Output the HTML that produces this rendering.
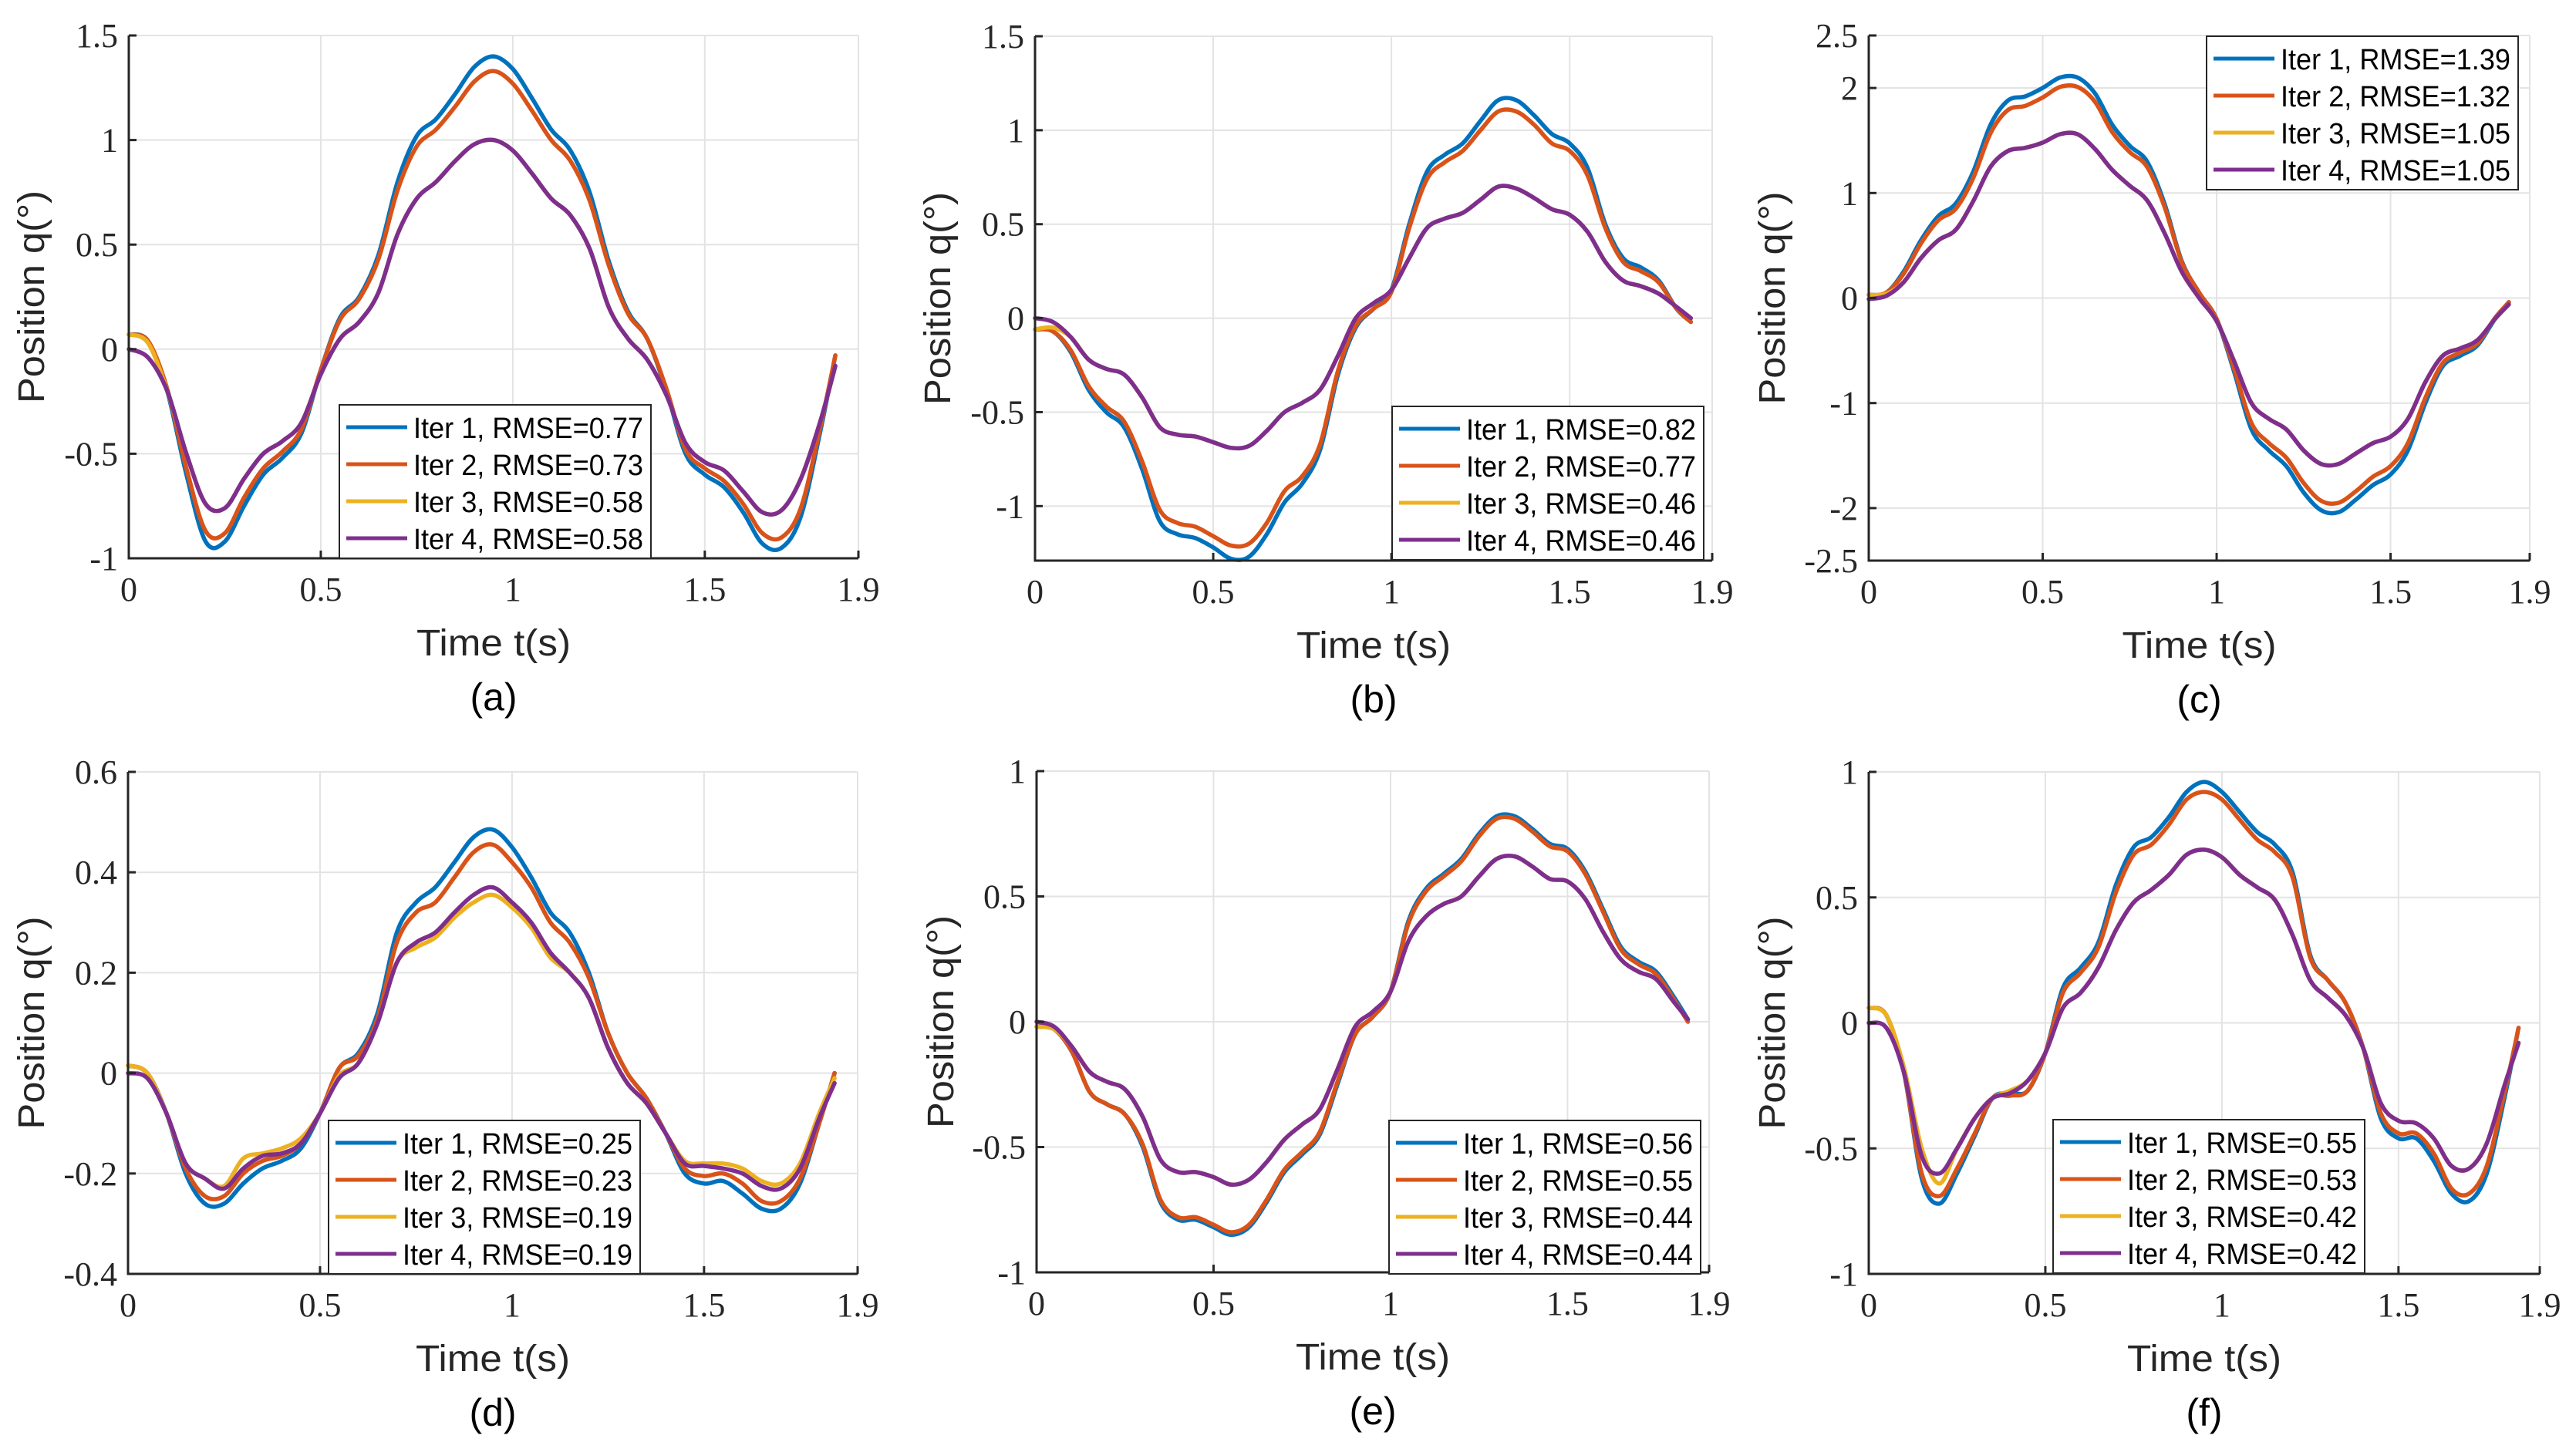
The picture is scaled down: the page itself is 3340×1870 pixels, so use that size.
<!DOCTYPE html>
<html><head><meta charset="utf-8">
<style>
html,body{margin:0;padding:0;background:#fff;}
svg{display:block;}
.tick{font-family:"Liberation Serif",serif;font-size:44px;fill:#262626;}
.lab{font-family:"Liberation Sans",sans-serif;font-size:48px;fill:#262626;}
.leg{font-family:"Liberation Sans",sans-serif;font-size:38px;fill:#000;}
.cap{font-family:"Liberation Sans",sans-serif;font-size:50px;fill:#000;}
</style></head>
<body>
<svg id="fig" width="3340" height="1870" viewBox="0 0 3340 1870" xmlns="http://www.w3.org/2000/svg">
<rect width="3340" height="1870" fill="#fff"/>
</svg>
<script>
const times=[0,0.05,0.1,0.15,0.2,0.25,0.3,0.35,0.4,0.45,0.5,0.55,0.6,0.65,0.7,0.75,0.8,0.85,0.9,0.95,1.0,1.05,1.1,1.15,1.2,1.25,1.3,1.35,1.4,1.45,1.5,1.55,1.6,1.65,1.7,1.75,1.8,1.84];
const xTicks=[0,0.5,1,1.5,1.9];
const xTickLabels=["0","0.5","1","1.5","1.9"];
const seriesNames=["Iter 1","Iter 2","Iter 3","Iter 4"];
const colors=["#0072BD","#D95319","#EDB120","#7E2F8E"];

const aIter1=[0.07,0.04,-0.2,-0.6,-0.92,-0.92,-0.75,-0.6,-0.52,-0.4,-0.1,0.15,0.25,0.45,0.8,1.02,1.1,1.22,1.35,1.4,1.34,1.2,1.05,0.95,0.75,0.42,0.18,0.05,-0.2,-0.5,-0.6,-0.66,-0.78,-0.93,-0.95,-0.8,-0.4,-0.03];
const aIter2=[0.07,0.04,-0.19,-0.57,-0.87,-0.88,-0.71,-0.57,-0.49,-0.38,-0.1,0.14,0.24,0.43,0.76,0.97,1.05,1.16,1.28,1.33,1.27,1.14,1.0,0.9,0.71,0.4,0.17,0.05,-0.19,-0.48,-0.57,-0.63,-0.74,-0.88,-0.9,-0.76,-0.38,-0.03];
const aIter3=[0.07,0.03,-0.2,-0.5,-0.74,-0.76,-0.62,-0.5,-0.44,-0.35,-0.12,0.05,0.13,0.27,0.55,0.72,0.8,0.9,0.98,1.0,0.95,0.84,0.72,0.64,0.48,0.2,0.05,-0.05,-0.22,-0.45,-0.54,-0.58,-0.68,-0.78,-0.77,-0.62,-0.35,-0.08];
const aIter4=[0,-0.04,-0.2,-0.5,-0.74,-0.76,-0.62,-0.5,-0.44,-0.35,-0.12,0.05,0.13,0.27,0.55,0.72,0.8,0.9,0.98,1.0,0.95,0.84,0.72,0.64,0.48,0.2,0.05,-0.05,-0.22,-0.45,-0.54,-0.58,-0.68,-0.78,-0.77,-0.62,-0.35,-0.08];

const bIter1=[-0.06,-0.07,-0.18,-0.38,-0.5,-0.58,-0.8,-1.08,-1.15,-1.17,-1.22,-1.28,-1.27,-1.15,-0.98,-0.88,-0.7,-0.3,-0.05,0.05,0.15,0.5,0.78,0.87,0.93,1.05,1.16,1.16,1.08,0.98,0.93,0.8,0.5,0.32,0.27,0.2,0.05,-0.02];
const bIter2=[-0.06,-0.07,-0.17,-0.36,-0.47,-0.55,-0.76,-1.02,-1.09,-1.11,-1.16,-1.21,-1.2,-1.09,-0.92,-0.84,-0.67,-0.28,-0.04,0.05,0.14,0.48,0.74,0.83,0.89,1.0,1.1,1.1,1.03,0.93,0.89,0.76,0.48,0.3,0.25,0.19,0.05,-0.02];
const bIter3=[-0.06,-0.05,-0.1,-0.22,-0.27,-0.3,-0.42,-0.58,-0.62,-0.63,-0.66,-0.69,-0.68,-0.6,-0.5,-0.45,-0.38,-0.2,0.0,0.08,0.15,0.32,0.48,0.53,0.56,0.63,0.7,0.69,0.64,0.58,0.55,0.46,0.3,0.2,0.17,0.13,0.06,0.0];
const bIter4=[0,-0.02,-0.1,-0.22,-0.27,-0.3,-0.42,-0.58,-0.62,-0.63,-0.66,-0.69,-0.68,-0.6,-0.5,-0.45,-0.38,-0.2,0.0,0.08,0.15,0.32,0.48,0.53,0.56,0.63,0.7,0.69,0.64,0.58,0.55,0.46,0.3,0.2,0.17,0.13,0.06,0.0];

const cIter1=[0.03,0.05,0.25,0.55,0.78,0.9,1.2,1.65,1.88,1.92,2.0,2.1,2.1,1.95,1.65,1.45,1.3,0.9,0.35,0.05,-0.2,-0.7,-1.25,-1.45,-1.6,-1.85,-2.02,-2.04,-1.92,-1.78,-1.68,-1.45,-1.0,-0.65,-0.55,-0.45,-0.2,-0.04];
const cIter2=[0.03,0.05,0.23,0.52,0.74,0.85,1.14,1.57,1.79,1.83,1.91,2.01,2.01,1.87,1.58,1.39,1.25,0.87,0.34,0.05,-0.2,-0.67,-1.19,-1.38,-1.52,-1.76,-1.93,-1.95,-1.84,-1.7,-1.6,-1.38,-0.95,-0.62,-0.52,-0.43,-0.19,-0.04];
const cIter3=[0.03,0.04,0.15,0.38,0.55,0.65,0.92,1.25,1.4,1.43,1.48,1.56,1.56,1.42,1.22,1.07,0.93,0.62,0.25,0.0,-0.22,-0.6,-1.0,-1.15,-1.25,-1.45,-1.58,-1.58,-1.48,-1.38,-1.32,-1.15,-0.8,-0.55,-0.48,-0.4,-0.2,-0.06];
const cIter4=[-0.01,0.02,0.15,0.38,0.55,0.65,0.92,1.25,1.4,1.43,1.48,1.56,1.56,1.42,1.22,1.07,0.93,0.62,0.25,0.0,-0.22,-0.6,-1.0,-1.15,-1.25,-1.45,-1.58,-1.58,-1.48,-1.38,-1.32,-1.15,-0.8,-0.55,-0.48,-0.4,-0.2,-0.06];

const dIter1=[0.015,0.0,-0.08,-0.2,-0.26,-0.26,-0.22,-0.19,-0.175,-0.15,-0.08,0.01,0.04,0.12,0.28,0.34,0.37,0.42,0.47,0.485,0.45,0.39,0.32,0.28,0.2,0.08,0.0,-0.05,-0.12,-0.2,-0.22,-0.215,-0.24,-0.27,-0.27,-0.22,-0.1,0.0];
const dIter2=[0.015,0.0,-0.08,-0.19,-0.245,-0.245,-0.2,-0.175,-0.165,-0.14,-0.08,0.01,0.035,0.11,0.26,0.32,0.34,0.39,0.44,0.455,0.42,0.37,0.3,0.26,0.19,0.08,0.0,-0.05,-0.12,-0.19,-0.205,-0.2,-0.22,-0.255,-0.255,-0.21,-0.1,0.0];
const dIter3=[0.015,0.0,-0.08,-0.18,-0.21,-0.225,-0.17,-0.16,-0.15,-0.13,-0.08,-0.005,0.02,0.1,0.22,0.25,0.27,0.31,0.34,0.355,0.33,0.29,0.23,0.2,0.15,0.05,-0.02,-0.06,-0.12,-0.175,-0.18,-0.18,-0.19,-0.215,-0.22,-0.18,-0.08,-0.01];
const dIter4=[0,-0.01,-0.08,-0.18,-0.21,-0.23,-0.19,-0.165,-0.16,-0.14,-0.08,-0.01,0.02,0.1,0.22,0.26,0.28,0.32,0.355,0.37,0.34,0.3,0.24,0.2,0.15,0.05,-0.02,-0.06,-0.12,-0.18,-0.185,-0.19,-0.2,-0.225,-0.23,-0.19,-0.09,-0.02];

const eIter1=[-0.02,-0.03,-0.12,-0.28,-0.33,-0.37,-0.5,-0.72,-0.79,-0.79,-0.82,-0.85,-0.82,-0.72,-0.6,-0.53,-0.45,-0.25,-0.05,0.02,0.12,0.4,0.53,0.59,0.65,0.75,0.82,0.82,0.77,0.71,0.69,0.6,0.45,0.3,0.24,0.2,0.1,0.01];
const eIter2=[-0.02,-0.03,-0.12,-0.28,-0.33,-0.37,-0.49,-0.71,-0.78,-0.78,-0.81,-0.84,-0.81,-0.71,-0.59,-0.52,-0.44,-0.24,-0.05,0.02,0.12,0.39,0.52,0.58,0.64,0.74,0.81,0.81,0.76,0.7,0.68,0.59,0.44,0.29,0.23,0.19,0.09,0.0];
const eIter3=[-0.02,-0.03,-0.1,-0.2,-0.24,-0.27,-0.38,-0.55,-0.6,-0.6,-0.62,-0.65,-0.63,-0.56,-0.47,-0.41,-0.35,-0.19,-0.02,0.04,0.12,0.32,0.42,0.47,0.5,0.58,0.65,0.66,0.62,0.57,0.56,0.49,0.36,0.25,0.2,0.17,0.08,0.01];
const eIter4=[0,-0.02,-0.1,-0.2,-0.24,-0.27,-0.38,-0.55,-0.6,-0.6,-0.62,-0.65,-0.63,-0.56,-0.47,-0.41,-0.35,-0.19,-0.02,0.04,0.12,0.32,0.42,0.47,0.5,0.58,0.65,0.66,0.62,0.57,0.56,0.49,0.36,0.25,0.2,0.17,0.08,0.01];

const fIter1=[0.06,0.03,-0.2,-0.62,-0.72,-0.6,-0.45,-0.3,-0.28,-0.27,-0.12,0.14,0.22,0.32,0.55,0.7,0.74,0.82,0.92,0.96,0.92,0.84,0.76,0.71,0.6,0.27,0.17,0.08,-0.1,-0.38,-0.46,-0.46,-0.55,-0.68,-0.71,-0.6,-0.3,-0.02];
const fIter2=[0.06,0.03,-0.2,-0.6,-0.69,-0.58,-0.44,-0.3,-0.29,-0.27,-0.12,0.12,0.2,0.3,0.52,0.67,0.71,0.79,0.89,0.92,0.89,0.81,0.73,0.68,0.58,0.26,0.17,0.08,-0.1,-0.36,-0.44,-0.44,-0.52,-0.66,-0.68,-0.57,-0.28,-0.02];
const fIter3=[0.06,0.03,-0.18,-0.5,-0.64,-0.5,-0.38,-0.3,-0.27,-0.23,-0.12,0.06,0.12,0.22,0.37,0.48,0.53,0.59,0.67,0.69,0.66,0.59,0.54,0.49,0.35,0.17,0.1,0.03,-0.1,-0.32,-0.39,-0.4,-0.46,-0.57,-0.58,-0.48,-0.25,-0.08];
const fIter4=[0,-0.02,-0.2,-0.53,-0.6,-0.5,-0.38,-0.3,-0.28,-0.23,-0.12,0.06,0.12,0.22,0.37,0.48,0.53,0.59,0.67,0.69,0.66,0.59,0.54,0.49,0.35,0.17,0.1,0.03,-0.1,-0.32,-0.39,-0.4,-0.46,-0.57,-0.58,-0.48,-0.25,-0.08];

const aRmse=["0.77","0.73","0.58","0.58"];
const bRmse=["0.82","0.77","0.46","0.46"];
const cRmse=["1.39","1.32","1.05","1.05"];
const dRmse=["0.25","0.23","0.19","0.19"];
const eRmse=["0.56","0.55","0.44","0.44"];
const fRmse=["0.55","0.53","0.42","0.42"];

const aYTicks=[-1,-0.5,0,0.5,1,1.5];
const bYTicks=[-1,-0.5,0,0.5,1,1.5];
const cYTicks=[-2.5,-2,-1,0,1,2,2.5];
const dYTicks=[-0.4,-0.2,0,0.2,0.4,0.6];
const eYTicks=[-1,-0.5,0,0.5,1];
const fYTicks=[-1,-0.5,0,0.5,1];

const NS="http://www.w3.org/2000/svg";
const svg=document.getElementById('fig');
function mk(tag,attrs,parent){const e=document.createElementNS(NS,tag);for(const k in attrs)e.setAttribute(k,attrs[k]);(parent||svg).appendChild(e);return e;}
function smoothPath(pts){
  let d="M"+pts[0][0].toFixed(1)+","+pts[0][1].toFixed(1);
  for(let i=0;i<pts.length-1;i++){
    const p0=pts[Math.max(0,i-1)],p1=pts[i],p2=pts[i+1],p3=pts[Math.min(pts.length-1,i+2)];
    const c1x=p1[0]+(p2[0]-p0[0])/6,c1y=p1[1]+(p2[1]-p0[1])/6;
    const c2x=p2[0]-(p3[0]-p1[0])/6,c2y=p2[1]-(p3[1]-p1[1])/6;
    d+=" C"+c1x.toFixed(1)+","+c1y.toFixed(1)+" "+c2x.toFixed(1)+","+c2y.toFixed(1)+" "+p2[0].toFixed(1)+","+p2[1].toFixed(1);
  }
  return d;
}
function fmt(v){return (v<0?"-":"")+String(Math.abs(v));}

const panels=[
 {id:"a",L:167,R:1113,T:46,B:724,ymin:-1,ymax:1.5,yt:aYTicks,s:[aIter1,aIter2,aIter3,aIter4],r:aRmse,lx:440,ly:525,ylx:40},
 {id:"b",L:1342,R:2220,T:47,B:727,ymin:-1.29,ymax:1.5,yt:bYTicks,s:[bIter1,bIter2,bIter3,bIter4],r:bRmse,lx:1805,ly:527,ylx:1215},
 {id:"c",L:2423,R:3280,T:46,B:727,ymin:-2.5,ymax:2.5,yt:cYTicks,s:[cIter1,cIter2,cIter3,cIter4],r:cRmse,lx:2861,ly:47,ylx:2297},
 {id:"d",L:166,R:1112,T:1001,B:1652,ymin:-0.4,ymax:0.6,yt:dYTicks,s:[dIter1,dIter2,dIter3,dIter4],r:dRmse,lx:426,ly:1453,ylx:40},
 {id:"e",L:1344,R:2216,T:1000,B:1650,ymin:-1,ymax:1,yt:eYTicks,s:[eIter1,eIter2,eIter3,eIter4],r:eRmse,lx:1801,ly:1453,ylx:1219},
 {id:"f",L:2423,R:3293,T:1001,B:1652,ymin:-1,ymax:1,yt:fYTicks,s:[fIter1,fIter2,fIter3,fIter4],r:fRmse,lx:2662,ly:1452,ylx:2297}
];

panels.forEach(p=>{
  const g=mk('g',{});
  
  
  const X=t=>p.L+(t-0)/(1.9-0)*(p.R-p.L);
  const Y=v=>p.B-(v-p.ymin)/(p.ymax-p.ymin)*(p.B-p.T);
  xTicks.forEach(t=>{const l=mk('line',{x1:X(t),x2:X(t),y1:p.T,y2:p.B,stroke:"#e3e3e3","stroke-width":2},g);
    });
  p.yt.forEach(v=>{const l=mk('line',{x1:p.L,x2:p.R,y1:Y(v),y2:Y(v),stroke:"#e3e3e3","stroke-width":2},g);
    });
  mk('line',{x1:p.L,x2:p.R,y1:p.T,y2:p.T,stroke:"#e3e3e3","stroke-width":2},g);
  p.s.forEach((arr,k)=>{
    const pts=arr.map((v,i)=>[X(times[i]),Y(v)]);
    const path=mk('path',{d:smoothPath(pts),fill:"none",stroke:colors[k],"stroke-width":5.5,"stroke-linejoin":"round","stroke-linecap":"round"},g);
    
    
  });
  const ax=mk('path',{d:`M${p.L},${p.T} L${p.L},${p.B} L${p.R},${p.B}`,fill:"none",stroke:"#262626","stroke-width":3},g);
  
  
  xTicks.forEach((t,i)=>{
    mk('line',{x1:X(t),x2:X(t),y1:p.B,y2:p.B-10,stroke:"#262626","stroke-width":3},g);
    const tx=mk('text',{x:X(t),y:p.B+55,"text-anchor":"middle",class:"tick"},g);
    tx.textContent=xTickLabels[i];
    
    
  });
  p.yt.forEach(v=>{
    mk('line',{x1:p.L,x2:p.L+10,y1:Y(v),y2:Y(v),stroke:"#262626","stroke-width":3},g);
    const tx=mk('text',{x:p.L-14,y:Y(v)+15,"text-anchor":"end",class:"tick"},g);
    tx.textContent=fmt(v);
    
    
  });
  const cx=(p.L+p.R)/2, cy=(p.T+p.B)/2;
  const xl=mk('text',{x:cx,y:p.B+126,"text-anchor":"middle",class:"lab",textLength:200,lengthAdjust:"spacingAndGlyphs"},g);
  xl.textContent="Time t(s)";
  
  
  const yl=mk('text',{x:0,y:0,"text-anchor":"middle",class:"lab",transform:`translate(${p.ylx+17},${cy}) rotate(-90)`,textLength:276,lengthAdjust:"spacingAndGlyphs"},g);
  yl.textContent="Position q(°)";
  
  
  const cap=mk('text',{x:cx,y:p.B+197,"text-anchor":"middle",class:"cap"},g);
  cap.textContent="("+p.id+")";
  
  
  const lg=mk('g',{},g);
  
  
  mk('rect',{x:p.lx,y:p.ly,width:404,height:199,fill:"#fff",stroke:"#262626","stroke-width":2},lg);
  seriesNames.forEach((n,k)=>{
    const yy=p.ly+29+k*48;
    const ln=mk('line',{x1:p.lx+9,x2:p.lx+88,y1:yy,y2:yy,stroke:colors[k],"stroke-width":5},lg);
    
    
    const tx=mk('text',{x:p.lx+96,y:yy+14,class:"leg",textLength:298,lengthAdjust:"spacingAndGlyphs"},lg);
    tx.textContent=n+", RMSE="+p.r[k];
    
    
  });
});
</script>
</body></html>
